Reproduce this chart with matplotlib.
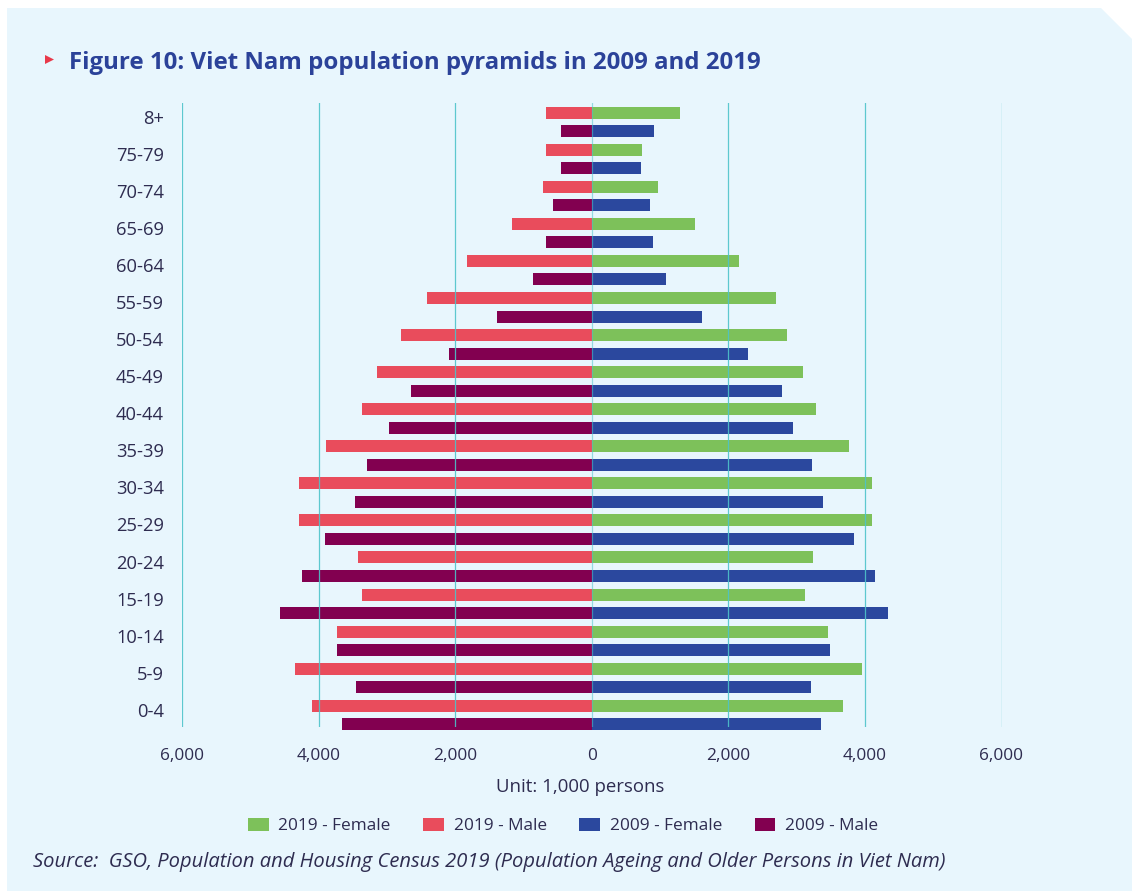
import matplotlib
matplotlib.use("Agg")
import matplotlib.pyplot as plt
from matplotlib.patches import Polygon, Patch
import numpy as np

plt.rcParams['font.family'] = ['Open Sans', 'DejaVu Sans']

ages = ['0-4', '5-9', '10-14', '15-19', '20-24', '25-29', '30-34', '35-39', '40-44',
        '45-49', '50-54', '55-59', '60-64', '65-69', '70-74', '75-79', '8+']
female_2019 = [3684, 3962, 3465, 3129, 3246, 4108, 4108, 3772, 3289, 3099, 2865, 2705, 2149, 1506, 965, 731, 1287]
male_2019 = [4090, 4340, 3730, 3360, 3420, 4285, 4285, 3890, 3365, 3145, 2790, 2410, 1825, 1170, 715, 670, 670]
female_2009 = [3363, 3216, 3494, 4342, 4152, 3845, 3392, 3231, 2953, 2792, 2295, 1608, 1082, 892, 848, 717, 906]
male_2009 = [3655, 3450, 3728, 4561, 4240, 3903, 3465, 3289, 2968, 2646, 2091, 1389, 862, 670, 570, 453, 453]
x_ticks = [-6000, -4000, -2000, 0, 2000, 4000, 6000]
x_tick_labels = ['6,000', '4,000', '2,000', '0', '2,000', '4,000', '6,000']
series_labels = ['2019 - Female', '2019 - Male', '2009 - Female', '2009 - Male']

C_GREEN = '#7DC15A'
C_RED = '#E94C5C'
C_BLUE = '#2B489E'
C_PURPLE = '#820050'
C_BG = '#E8F6FD'
C_GRID = '#4EC3CA'
C_TEXT = '#2E2C50'
C_TITLE = '#2B4299'

W, H = 1132, 891
fig = plt.figure(figsize=(W / 100, H / 100), dpi=100)
fig.patch.set_facecolor('white')

def fx(x):
    return x / W

def fy(y):
    return 1 - y / H

panel = Polygon([(fx(7), fy(8)), (fx(1101), fy(8)), (fx(1132), fy(39)), (fx(1132), fy(891)), (fx(7), fy(891))],
                closed=True, transform=fig.transFigure, facecolor=C_BG, edgecolor='none', zorder=-5)
fig.patches.append(panel)

tri = Polygon([(fx(45), fy(55)), (fx(45), fy(64)), (fx(54), fy(59.5))], closed=True,
              transform=fig.transFigure, facecolor='#E8394A', edgecolor='none', zorder=-4)
fig.patches.append(tri)
fig.text(fx(69), fy(69), 'Figure 10: Viet Nam population pyramids in 2009 and 2019',
         fontsize=17.3, fontweight='bold', color=C_TITLE, ha='left', va='baseline')

left, right = 182, 1001.5
top, bottom = 103, 727
ax = fig.add_axes([fx(left), fy(bottom), (right - left) / W, (bottom - top) / H])
ax.set_facecolor('none')

y = np.arange(len(ages))
h = 0.324
kw = dict(height=h, clip_on=False, zorder=2, linewidth=0)
ax.barh(y + 0.25, female_2019, color=C_GREEN, **kw)
ax.barh(y + 0.25, [-v for v in male_2019], color=C_RED, **kw)
ax.barh(y - 0.25, female_2009, color=C_BLUE, **kw)
ax.barh(y - 0.25, [-v for v in male_2009], color=C_PURPLE, **kw)

ax.set_xlim(-6000, 6000)
ax.set_ylim(-0.324, 16.51)
for xv in x_ticks:
    ax.axvline(xv, color=C_GRID, lw=0.9, zorder=3, alpha=0.55 if xv == 0 else 0.9)

ax.set_xticks(x_ticks)
ax.set_xticklabels(x_tick_labels)
ax.set_yticks(y + 0.14)
ax.set_yticklabels(ages)
ax.tick_params(axis='x', length=0, pad=15, labelsize=12.4, labelcolor=C_TEXT)
ax.tick_params(axis='y', length=0, pad=13, labelsize=13.2, labelcolor=C_TEXT)
for s in ax.spines.values():
    s.set_visible(False)

fig.text(fx(580), fy(787), 'Unit: 1,000 persons', fontsize=13.4, color=C_TEXT, ha='center', va='center')

handles = [Patch(facecolor=c, edgecolor='none') for c in [C_GREEN, C_RED, C_BLUE, C_PURPLE]]
leg = fig.legend(handles, series_labels, loc='center', bbox_to_anchor=(fx(563), fy(826)), ncol=4,
                 frameon=False, fontsize=12.4, handlelength=1.2, handleheight=0.86,
                 handletextpad=0.55, columnspacing=1.9, labelcolor=C_TEXT)

fig.text(fx(33), fy(867), 'Source:  GSO, Population and Housing Census 2019 (Population Ageing and Older Persons in Viet Nam)',
         fontsize=14.5, style='italic', color=C_TEXT, ha='left', va='baseline')

fig.savefig('out.png', dpi=100, facecolor=fig.get_facecolor())
